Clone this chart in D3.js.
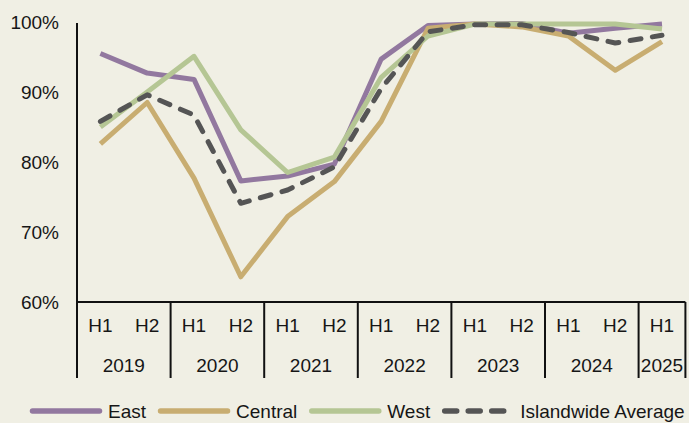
<!DOCTYPE html>
<html>
<head>
<meta charset="utf-8">
<script src="https://cdn.jsdelivr.net/npm/d3@7"></script>
<style>
  html, body { margin: 0; padding: 0; background: #f0efe4; }
  svg { display: block; font-family: "Liberation Sans", Arial, sans-serif; }
  text { fill: #161616; }
</style>
</head>
<body>
<svg id="chart" width="689" height="423"></svg>
<script>
const periods = ['2019 H1','2019 H2','2020 H1','2020 H2','2021 H1','2021 H2','2022 H1','2022 H2','2023 H1','2023 H2','2024 H1','2024 H2','2025 H1'];
const east = [95.5, 92.7, 91.8, 77.3, 78.0, 79.7, 94.7, 99.5, 99.7, 99.8, 98.4, 99.1, 99.7];
const central = [82.6, 88.5, 77.7, 63.6, 72.2, 77.2, 85.8, 99.1, 99.7, 99.3, 98.0, 93.1, 97.2];
const west = [85.0, 90.0, 95.1, 84.6, 78.5, 80.7, 92.1, 98.0, 99.7, 99.7, 99.7, 99.7, 99.0];
const islandwide = [85.8, 89.6, 86.7, 74.1, 76.0, 79.3, 90.5, 98.6, 99.6, 99.6, 98.5, 97.0, 98.1];
const yTicks = [60, 70, 80, 90, 100];

const series = [
  { name: 'East', values: east, color: '#92789f', dash: null },
  { name: 'Central', values: central, color: '#c8ad71', dash: null },
  { name: 'West', values: west, color: '#b5c694', dash: null },
  { name: 'Islandwide Average', values: islandwide, color: '#555555', dash: '11,11.5' }
];

const svg = d3.select('#chart');
const plotLeft = 77, plotRight = 685.4, plotTop = 22, base = 302, plotBottom = 378;

let x = d3.scaleBand().domain(periods).range([plotLeft, plotRight]);
let y = d3.scaleLinear().domain([60, 100]).range([base, plotTop]);

// y labels
svg.append('g')
  .attr('transform', `translate(${plotLeft},0)`)
  .call(d3.axisLeft(y).tickValues(yTicks).tickSize(0).tickPadding(18).tickFormat(d => d + '%'))
  .call(g => g.select('.domain').remove())
  .selectAll('text')
  .attr('font-size', 19)
  .attr('font-family', null)
  .attr('fill', '#161616');

// H labels
svg.append('g')
  .attr('transform', `translate(0,${base})`)
  .call(d3.axisBottom(x).tickSize(0).tickPadding(17).tickFormat(d => d.split(' ')[1]))
  .call(g => g.select('.domain').remove())
  .selectAll('text')
  .attr('font-size', 19)
  .attr('font-family', null)
  .attr('fill', '#161616');

// year groups
let years = d3.groups(periods, d => d.split(' ')[0]);
years.forEach(([yr, ps]) => {
  let x0 = x(ps[0]);
  let x1 = x(ps[ps.length - 1]) + x.bandwidth();
  svg.append('text')
    .attr('x', (x0 + x1) / 2)
    .attr('y', 372)
    .attr('text-anchor', 'middle')
    .attr('font-size', 19)
    .text(yr);
  svg.append('line')
    .attr('x1', x1).attr('x2', x1)
    .attr('y1', base).attr('y2', plotBottom)
    .attr('stroke', '#111').attr('stroke-width', 2);
});

// axis lines
svg.append('line')
  .attr('x1', plotLeft).attr('x2', plotRight)
  .attr('y1', base).attr('y2', base)
  .attr('stroke', '#111').attr('stroke-width', 2);
svg.append('line')
  .attr('x1', plotLeft).attr('x2', plotLeft)
  .attr('y1', plotTop + 1).attr('y2', plotBottom)
  .attr('stroke', '#111').attr('stroke-width', 2);

// lines
let line = d3.line()
  .x((d, i) => x(periods[i]) + x.bandwidth() / 2)
  .y(d => y(d));

series.forEach(s => {
  svg.append('path')
    .attr('d', line(s.values))
    .attr('fill', 'none')
    .attr('stroke', s.color)
    .attr('stroke-width', 5)
    .attr('stroke-linejoin', 'round')
    .attr('stroke-linecap', s.dash ? 'round' : 'butt')
    .attr('stroke-dasharray', s.dash);
});

// legend
let lx = 30;
const ly = 411;
series.forEach(s => {
  svg.append('line')
    .attr('x1', lx + 2.5).attr('x2', lx + 69.5)
    .attr('y1', ly).attr('y2', ly)
    .attr('stroke', s.color)
    .attr('stroke-width', 5.5)
    .attr('stroke-linecap', 'round')
    .attr('stroke-dasharray', s.dash ? '12,11.5' : null);
  let t = svg.append('text')
    .attr('x', lx + 78)
    .attr('y', ly + 7)
    .attr('font-size', 19)
    .text(s.name);
  lx = lx + 78 + t.node().getComputedTextLength() + 12;
});
</script>
</body>
</html>
